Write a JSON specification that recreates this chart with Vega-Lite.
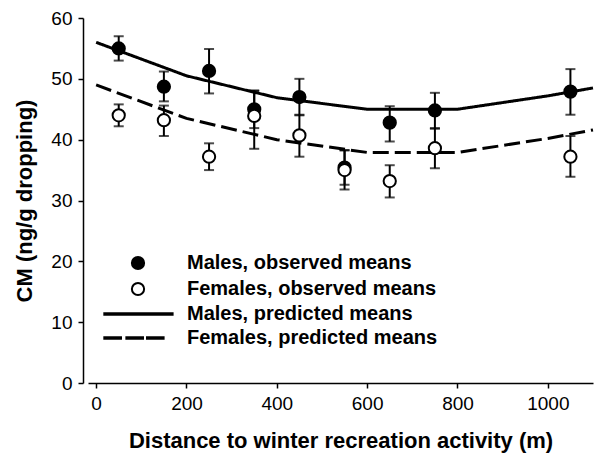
{
  "$schema": "https://vega.github.io/schema/vega-lite/v6.json",
  "width": 505,
  "height": 365,
  "autosize": "none",
  "padding": {"left": 88, "top": 18, "right": 2, "bottom": 71},
  "config": {
    "view": {"stroke": null},
    "font": "Liberation Sans",
    "axis": {
      "domainColor": "black", "domainWidth": 1.5, "tickColor": "black", "tickWidth": 1.5,
      "labelColor": "black", "titleColor": "black", "labelFontSize": 19, "labelFont": "Liberation Sans",
      "titleFont": "Liberation Sans", "titleFontSize": 22, "titleFontWeight": "bold", "grid": false
    }
  },
  "datasets": {
    "obs": [
      {"d": 50, "cm": 55.0, "lo": 53.0, "hi": 57.0, "series": "Males, observed means"},
      {"d": 150, "cm": 48.7, "lo": 46.3, "hi": 51.2, "series": "Males, observed means"},
      {"d": 250, "cm": 51.3, "lo": 47.6, "hi": 54.9, "series": "Males, observed means"},
      {"d": 350, "cm": 45.0, "lo": 41.9, "hi": 48.1, "series": "Males, observed means"},
      {"d": 450, "cm": 47.0, "lo": 44.0, "hi": 50.0, "series": "Males, observed means"},
      {"d": 550, "cm": 35.4, "lo": 32.6, "hi": 38.2, "series": "Males, observed means"},
      {"d": 650, "cm": 42.8, "lo": 39.7, "hi": 45.5, "series": "Males, observed means"},
      {"d": 750, "cm": 44.8, "lo": 41.8, "hi": 47.7, "series": "Males, observed means"},
      {"d": 1050, "cm": 47.9, "lo": 44.1, "hi": 51.6, "series": "Males, observed means"},
      {"d": 50, "cm": 44.0, "lo": 42.2, "hi": 45.8, "series": "Females, observed means"},
      {"d": 150, "cm": 43.2, "lo": 40.6, "hi": 45.6, "series": "Females, observed means"},
      {"d": 250, "cm": 37.2, "lo": 35.0, "hi": 39.4, "series": "Females, observed means"},
      {"d": 350, "cm": 43.9, "lo": 38.5, "hi": 48.0, "series": "Females, observed means"},
      {"d": 450, "cm": 40.7, "lo": 37.2, "hi": 44.1, "series": "Females, observed means"},
      {"d": 550, "cm": 35.0, "lo": 31.8, "hi": 38.3, "series": "Females, observed means"},
      {"d": 650, "cm": 33.2, "lo": 30.5, "hi": 35.8, "series": "Females, observed means"},
      {"d": 750, "cm": 38.6, "lo": 35.3, "hi": 41.9, "series": "Females, observed means"},
      {"d": 1050, "cm": 37.2, "lo": 33.9, "hi": 40.6, "series": "Females, observed means"}
    ],
    "pred": [
      {"d": 0, "cm": 56.0, "sex": "Males"},
      {"d": 200, "cm": 50.5, "sex": "Males"},
      {"d": 400, "cm": 46.9, "sex": "Males"},
      {"d": 600, "cm": 45.0, "sex": "Males"},
      {"d": 800, "cm": 45.0, "sex": "Males"},
      {"d": 1000, "cm": 47.2, "sex": "Males"},
      {"d": 1100, "cm": 48.5, "sex": "Males"},
      {"d": 0, "cm": 49.0, "sex": "Females"},
      {"d": 200, "cm": 43.5, "sex": "Females"},
      {"d": 400, "cm": 40.0, "sex": "Females"},
      {"d": 600, "cm": 37.9, "sex": "Females"},
      {"d": 800, "cm": 37.9, "sex": "Females"},
      {"d": 1000, "cm": 40.2, "sex": "Females"},
      {"d": 1100, "cm": 41.6, "sex": "Females"}
    ]
  },
  "encoding": {
    "x": {
      "field": "d", "type": "quantitative",
      "scale": {"domain": [-18, 1100], "nice": false, "zero": false},
      "axis": {"values": [0, 200, 400, 600, 800, 1000], "format": "d", "tickSize": 5, "labelPadding": 6, "titlePadding": 17,
               "title": "Distance to winter recreation activity (m)"}
    }
  },
  "layer": [
    {
      "data": {"name": "pred"},
      "mark": {"type": "line", "color": "black", "strokeWidth": 3},
      "encoding": {
        "y": {"field": "cm", "type": "quantitative", "title": "CM (ng/g dropping)"},
        "strokeDash": {"field": "sex", "type": "nominal", "scale": {"domain": ["Males", "Females"], "range": [[1, 0], [16, 6]]}, "legend": null}
      }
    },
    {
      "data": {"name": "obs"},
      "mark": {"type": "errorbar", "color": "black", "thickness": 2, "ticks": {"size": 10, "thickness": 2, "color": "black"}},
      "encoding": {
        "y": {"field": "lo", "type": "quantitative", "title": "CM (ng/g dropping)"},
        "y2": {"field": "hi"},
        "detail": {"field": "series"}
      }
    },
    {
      "data": {"name": "obs"},
      "mark": {"type": "point", "filled": false, "size": 150, "strokeWidth": 2, "opacity": 1},
      "encoding": {
        "y": {
          "field": "cm", "type": "quantitative",
          "scale": {"domain": [0, 60], "nice": false},
          "axis": {"values": [0, 10, 20, 30, 40, 50, 60], "offset": 5, "tickSize": 5, "labelPadding": 6, "titlePadding": 14},
          "title": "CM (ng/g dropping)"
        },
        "shape": {
          "field": "series", "type": "nominal",
          "scale": {
            "domain": ["Males, observed means", "Females, observed means", "Males, predicted means", "Females, predicted means"],
            "range": ["circle", "circle", "M-5.5,-0.11H5.65V0.11H-5.5Z", "M-5.5,-0.11H-2.78V0.11H-5.5ZM-1.9,-0.11H0.82V0.11H-1.9ZM1.47,-0.11H4.18V0.11H1.47Z"]
          },
          "legend": {
            "orient": "none", "legendX": 40, "legendY": 235, "title": null, "padding": 0,
            "labelFontSize": 20, "labelFontWeight": "bold", "labelFont": "Liberation Sans", "labelColor": "black", "labelLimit": 0,
            "symbolSize": 150, "symbolStrokeWidth": 2, "symbolOpacity": 1,
            "labelOffset": 39, "rowPadding": 4
          }
        },
        "fill": {
          "field": "series", "type": "nominal",
          "scale": {
            "domain": ["Males, observed means", "Females, observed means", "Males, predicted means", "Females, predicted means"],
            "range": ["black", "white", "black", "black"]
          }
        },
        "stroke": {
          "field": "series", "type": "nominal",
          "scale": {
            "domain": ["Males, observed means", "Females, observed means", "Males, predicted means", "Females, predicted means"],
            "range": ["black", "black", "black", "black"]
          }
        }
      }
    }
  ]
}
